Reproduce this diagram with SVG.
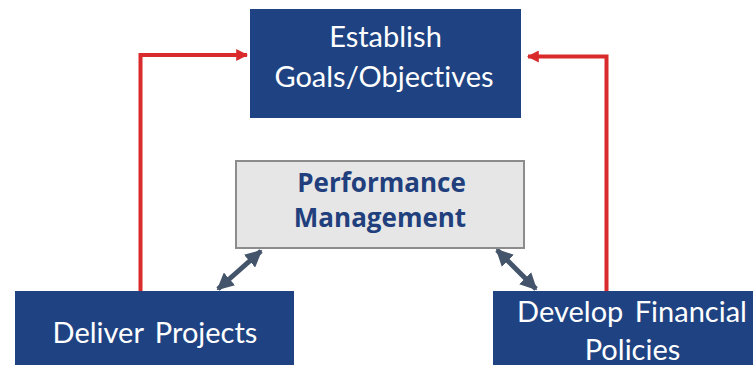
<svg xmlns="http://www.w3.org/2000/svg" width="753" height="365" viewBox="0 0 753 365">
<style>
.box{fill:#1f4382}
.wt{font-family:Lato,"Open Sans","Liberation Sans",sans-serif;font-size:29px;fill:#ffffff;text-anchor:middle;font-variant-ligatures:none}
.pt{font-family:"Open Sans",Lato,"Liberation Sans",sans-serif;font-size:26px;font-weight:bold;fill:#203f7c;text-anchor:middle}
.red{fill:none;stroke:#d92b2b;stroke-width:4}
.dbl{fill:none;stroke:#44546a;stroke-width:5}
</style>
<defs>
<marker id="ra" viewBox="0 0 10 10" refX="9" refY="5" markerWidth="3" markerHeight="3" orient="auto" markerUnits="strokeWidth"><path d="M0,0L10,5L0,10z" fill="#d92b2b"/></marker>
<marker id="ga" viewBox="0 0 10 10" refX="9" refY="5" markerWidth="3.4" markerHeight="3.4" orient="auto-start-reverse" markerUnits="strokeWidth"><path d="M0,0L10,5L0,10z" fill="#44546a"/></marker>
</defs>
<g id="connectors">
<path class="red" d="M140.5,291V55H247" marker-end="url(#ra)"/>
<path class="red" d="M606.5,291V56.5H528" marker-end="url(#ra)"/>
<path class="dbl" d="M261,251L218,289" marker-start="url(#ga)" marker-end="url(#ga)"/>
<path class="dbl" d="M497,250L536,289" marker-start="url(#ga)" marker-end="url(#ga)"/>
</g>
<g id="establish">
<rect class="box" x="250" y="9" width="271" height="109"/>
<text class="wt" x="385.5" y="47">Establish</text>
<text class="wt" x="384" y="87">Goals/Objectives</text>
</g>
<g id="performance">
<rect x="236" y="161" width="288" height="87" fill="#e6e6e6" stroke="#8c8c8c" stroke-width="2"/>
<text class="pt" x="381.5" y="192">Performance</text>
<text class="pt" x="380" y="227">Management</text>
</g>
<g id="deliver">
<rect class="box" x="15" y="291" width="279" height="74"/>
<text class="wt" x="155" y="343" word-spacing="4">Deliver Projects</text>
</g>
<g id="develop">
<rect class="box" x="493" y="291" width="260" height="74"/>
<text class="wt" x="632" y="322" word-spacing="4">Develop Financial</text>
<text class="wt" x="632.5" y="360">Policies</text>
</g>
</svg>
